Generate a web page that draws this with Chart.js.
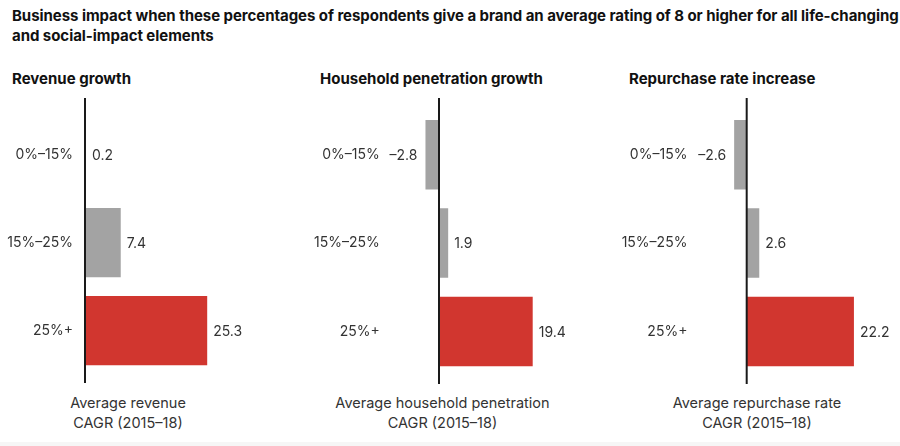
<!DOCTYPE html>
<html><head><meta charset="utf-8">
<script src="https://cdn.jsdelivr.net/npm/chart.js@4.4.0/dist/chart.umd.min.js"></script>
<style>
body{margin:0;width:900px;height:446px;background:#fff;position:relative;overflow:hidden;font-family:Inter,"Noto Sans",sans-serif;color:#111}
#title{position:absolute;left:12px;top:6px;width:888px;font-weight:700;font-size:15px;line-height:20px;letter-spacing:-0.05px;color:#111;white-space:nowrap}
.pt{position:absolute;top:69px;font-weight:700;font-size:15px;line-height:20px;letter-spacing:0;color:#111;white-space:nowrap}
.at{position:absolute;top:393px;font-size:14.5px;line-height:20px;text-align:center;color:#333;transform:translateX(-50%);white-space:nowrap}
.cv{position:absolute;top:90px}
#strip{position:absolute;left:0;top:442px;width:900px;height:4px;background:#f6f6f6}
</style>
</head><body>
<div id="title"></div>
<div id="strip"></div>
<script>
const mainTitleLines = [
  'Business impact when these percentages of respondents give a brand an average rating of 8 or higher for all life-changing',
  'and social-impact elements'
];
const categories = ['0%–15%', '15%–25%', '25%+'];
const revenueGrowth = [0.2, 7.4, 25.3];
const householdPenetrationGrowth = [-2.8, 1.9, 19.4];
const repurchaseRateIncrease = [-2.6, 2.6, 22.2];
const panelTitles = ['Revenue growth', 'Household penetration growth', 'Repurchase rate increase'];
const axisTitles = [
  ['Average revenue', 'CAGR (2015–18)'],
  ['Average household penetration', 'CAGR (2015–18)'],
  ['Average repurchase rate', 'CAGR (2015–18)']
];
const seriesList = [revenueGrowth, householdPenetrationGrowth, repurchaseRateIncrease];

const titleEl = document.getElementById('title');
mainTitleLines.forEach((s, i) => {
  if (i) titleEl.appendChild(document.createElement('br'));
  titleEl.appendChild(document.createTextNode(s));
});

const PPU = 4.83; // pixels per unit
const layouts = [
  {left: 0,   width: 290, yW: 85,   min: 0,   max: 40, pad: 12, titleX: 12,  axisX: 128},
  {left: 300, width: 300, yW: 90.7, min: -10, max: 30, pad: 11, titleX: 320, axisX: 442.5},
  {left: 610, width: 290, yW: 88.4, min: -10, max: 29, pad: 11, titleX: 629, axisX: 757}
];
const H = 305;

function fmt(v){ return (v < 0 ? '–' : '') + Math.abs(v).toFixed(1); }

const valueLabels = {
  id: 'valueLabels',
  afterDatasetsDraw(chart){
    const ctx = chart.ctx;
    const meta = chart.getDatasetMeta(0);
    const data = chart.data.datasets[0].data;
    ctx.save();
    ctx.font = '14px Inter, "Noto Sans", sans-serif';
    ctx.fillStyle = '#333';
    ctx.textBaseline = 'middle';
    meta.data.forEach((bar, i) => {
      const v = data[i];
      if (v < 0) { ctx.textAlign = 'right'; ctx.fillText(fmt(v), bar.x - 8, bar.y + 1); }
      else { ctx.textAlign = 'left'; ctx.fillText(fmt(v), bar.x + 6, bar.y + 1); }
    });
    ctx.restore();
  }
};
const zeroLine = {
  id: 'zeroLine',
  afterDatasetsDraw(chart){
    const ctx = chart.ctx;
    const x = chart.scales.x.getPixelForValue(0);
    const a = chart.chartArea;
    ctx.save();
    ctx.strokeStyle = '#1a1a1a';
    ctx.lineWidth = 2;
    ctx.beginPath();
    ctx.moveTo(x, a.top - 12.5);
    ctx.lineTo(x, a.bottom + 8.5);
    ctx.stroke();
    ctx.restore();
  }
};

layouts.forEach((L, k) => {
  const t = document.createElement('div');
  t.className = 'pt'; t.style.left = L.titleX + 'px'; t.textContent = panelTitles[k];
  document.body.appendChild(t);
  const at = document.createElement('div');
  at.className = 'at'; at.style.left = L.axisX + 'px';
  axisTitles[k].forEach((s, i) => {
    if (i) at.appendChild(document.createElement('br'));
    at.appendChild(document.createTextNode(s));
  });
  document.body.appendChild(at);

  const c = document.createElement('canvas');
  c.className = 'cv';
  c.style.left = L.left + 'px';
  c.width = L.width; c.height = H;
  c.style.width = L.width + 'px'; c.style.height = H + 'px';
  document.body.appendChild(c);

  const padRight = L.width - L.yW - (L.max - L.min) * PPU;
  new Chart(c, {
    type: 'bar',
    data: {
      labels: categories,
      datasets: [{
        data: seriesList[k],
        backgroundColor: ['#a3a3a3', '#a3a3a3', '#d1362f'],
        borderWidth: 0,
        barPercentage: 70 / 89,
        categoryPercentage: 1
      }]
    },
    options: {
      indexAxis: 'y',
      responsive: false,
      animation: false,
      layout: {padding: {left: 0, right: padRight, top: 20.5, bottom: 17.5}},
      plugins: {legend: {display: false}, tooltip: {enabled: false}, title: {display: false}},
      scales: {
        x: {display: false, min: L.min, max: L.max},
        y: {
          grid: {display: false, drawTicks: false},
          border: {display: false},
          ticks: {padding: L.pad, color: '#333', font: {family: 'Inter, "Noto Sans", sans-serif', size: 14}},
          afterFit(scale){ scale.width = L.yW; }
        }
      }
    },
    plugins: [valueLabels, zeroLine]
  });
});
</script>
</body></html>
